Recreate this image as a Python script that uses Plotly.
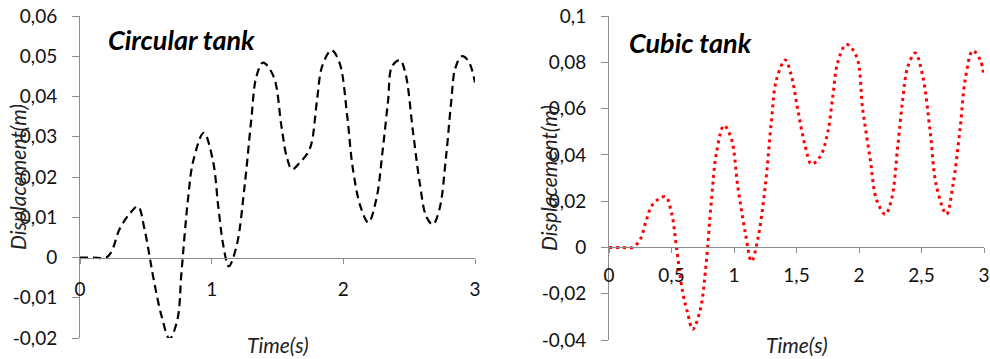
import plotly.graph_objects as go

# Circular tank (black dashed)
circ_t = [0, 0.10, 0.20, 0.24, 0.30, 0.38, 0.44, 0.49, 0.53, 0.56, 0.62, 0.68, 0.74, 0.77,
          0.82, 0.86, 0.94, 1.01, 1.05, 1.09, 1.13, 1.19, 1.25, 1.30, 1.34, 1.39, 1.47,
          1.53, 1.57, 1.61, 1.67, 1.73, 1.76, 1.80, 1.84, 1.91, 1.97, 2.03, 2.07, 2.13,
          2.19, 2.25, 2.30, 2.34, 2.37, 2.43, 2.47, 2.53, 2.58, 2.63, 2.68, 2.73, 2.78,
          2.82, 2.85, 2.90, 2.95, 3.00]
circ_d = [0, 0, 0, 0.0015, 0.007, 0.011, 0.0127, 0.007, 0.0, -0.0055, -0.0146, -0.0202,
          -0.0154, -0.004, 0.0144, 0.024, 0.031, 0.024, 0.0127, 0.0027, -0.0022, 0.003,
          0.0177, 0.034, 0.045, 0.0484, 0.045, 0.0326, 0.025, 0.0219, 0.0236, 0.026,
          0.0286, 0.039, 0.0476, 0.0515, 0.0485, 0.035, 0.0226, 0.0127, 0.0087, 0.0144,
          0.027, 0.039, 0.0475, 0.049, 0.046, 0.031, 0.0186, 0.0102, 0.0082, 0.012,
          0.025, 0.039, 0.047, 0.050, 0.0488, 0.0435]

# Cubic tank (red dotted)
cub_t = [0, 0.10, 0.19, 0.25, 0.30, 0.35, 0.45, 0.50, 0.54, 0.59, 0.63, 0.67, 0.73, 0.77,
         0.82, 0.86, 0.92, 0.98, 1.03, 1.09, 1.14, 1.19, 1.25, 1.30, 1.34, 1.41, 1.46,
         1.51, 1.57, 1.62, 1.69, 1.75, 1.79, 1.83, 1.90, 1.98, 2.03, 2.09, 2.14, 2.21,
         2.26, 2.31, 2.35, 2.39, 2.45, 2.51, 2.57, 2.62, 2.70, 2.75, 2.81, 2.85, 2.91,
         2.97, 3.00]
cub_d = [0, 0, 0, 0.0035, 0.012, 0.0186, 0.022, 0.015, 0.0, -0.0195, -0.0285, -0.0354,
         -0.027, -0.011, 0.0207, 0.041, 0.0527, 0.0467, 0.0264, 0.0065, -0.006, 0.0035,
         0.0264, 0.055, 0.0726, 0.081, 0.074, 0.0596, 0.0437, 0.036, 0.0393, 0.0497,
         0.065, 0.080, 0.0877, 0.0825, 0.0596, 0.038, 0.0207, 0.0143, 0.0207, 0.0437,
         0.064, 0.078, 0.084, 0.074, 0.0497, 0.0264, 0.0143, 0.0264, 0.052, 0.0726,
         0.085, 0.081, 0.074]

circ_yticks = [-0.02, -0.01, 0, 0.01, 0.02, 0.03, 0.04, 0.05, 0.06]
circ_ylabels = ["-0,02", "-0,01", "0", "0,01", "0,02", "0,03", "0,04", "0,05", "0,06"]
circ_xticks = [0, 1, 2, 3]
circ_xlabels = ["0", "1", "2", "3"]

cub_yticks = [-0.04, -0.02, 0, 0.02, 0.04, 0.06, 0.08, 0.1]
cub_ylabels = ["-0,04", "-0,02", "0", "0,02", "0,04", "0,06", "0,08", "0,1"]
cub_xticks = [0, 0.5, 1, 1.5, 2, 2.5, 3]
cub_xlabels = ["0", "0,5", "1", "1,5", "2", "2,5", "3"]

W, H = 990, 359
FONT = "Lato"
AX = "#8c8c8c"


def px(x):
    return x / W


def py(y):
    return 1 - y / H


fig = go.Figure()
fig.add_trace(go.Scatter(x=circ_t, y=circ_d, mode="lines", line_shape="spline",
                         line=dict(color="black", width=2.2, dash="8px,5px"),
                         xaxis="x", yaxis="y", showlegend=False))
fig.add_trace(go.Scatter(x=cub_t, y=cub_d, mode="lines", line_shape="spline",
                         line=dict(color="#ff0000", width=3, dash="3px,4px"),
                         xaxis="x2", yaxis="y2", showlegend=False))

l_x = [px(80), px(475)]
l_y = [py(338), py(16)]
r_x = [px(609), px(984)]
r_y = [py(340), py(16)]

l_zero = l_y[0] + (0 - -0.02) / 0.08 * (l_y[1] - l_y[0])
r_zero = r_y[0] + (0 - -0.04) / 0.14 * (r_y[1] - r_y[0])

tickfont = dict(family=FONT, size=19, color="#111111")
common_x = dict(showgrid=False, zeroline=False, showline=True, linecolor=AX, linewidth=1,
                ticks="outside", ticklen=5, tickcolor=AX, tickfont=tickfont,
                automargin=False, ticklabeloverflow="allow")
common_y = dict(showgrid=False, zeroline=False, showline=True, linecolor=AX, linewidth=1,
                ticks="outside", ticklen=7, tickcolor=AX, tickfont=tickfont,
                automargin=False, ticklabeloverflow="allow")

fig.update_layout(
    width=W, height=H, margin=dict(l=0, r=0, t=0, b=0),
    paper_bgcolor="white", plot_bgcolor="white",
    xaxis=dict(domain=l_x, range=[0, 3], anchor="free", position=l_zero,
               tickvals=circ_xticks, ticktext=circ_xlabels, ticklabelstandoff=10, **common_x),
    yaxis=dict(domain=l_y, range=[-0.02, 0.06], anchor="x",
               tickvals=circ_yticks, ticktext=circ_ylabels, ticklabelstandoff=11, **common_y),
    xaxis2=dict(domain=r_x, range=[0, 3], anchor="free", position=r_zero,
                tickvals=cub_xticks, ticktext=cub_xlabels, ticklabelstandoff=6, **common_x),
    yaxis2=dict(domain=r_y, range=[-0.04, 0.1], anchor="x2",
                tickvals=cub_yticks, ticktext=cub_ylabels, ticklabelstandoff=11, **common_y),
)

title_font = dict(family=FONT, size=27, color="black")
time_font = dict(family=FONT, size=21, color="#222222")
disp_font = dict(family=FONT, size=21, color="#222222")
annots = [
    dict(text="<b><i>Circular tank</i></b>", x=px(106), y=py(40), xanchor="left", font=title_font),
    dict(text="<b><i>Cubic tank</i></b>", x=px(627), y=py(43), xanchor="left", font=title_font),
    dict(text="<i>Time(s)</i>", x=px(278), y=py(344), xanchor="center", font=time_font),
    dict(text="<i>Time(s)</i>", x=px(797), y=py(344), xanchor="center", font=time_font),
    dict(text="<i>Displacement(m)</i>", x=px(17), y=py(177), xanchor="center", textangle=-90, font=disp_font),
    dict(text="<i>Displacement(m)</i>", x=px(548), y=py(178), xanchor="center", textangle=-90, font=disp_font),
]
for a in annots:
    fig.add_annotation(xref="paper", yref="paper", yanchor="middle", showarrow=False, **a)

# drop the default 8px page margin so the figure fills the window exactly
fig.write_html("out.html", config={"displayModeBar": False},
               post_script="document.body.style.margin = '0';")
